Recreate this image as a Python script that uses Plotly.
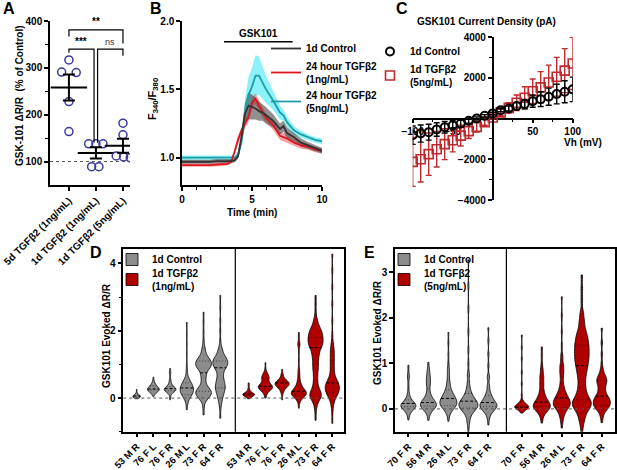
import numpy as np
import plotly.graph_objects as go

W, H = 617, 470
FONT = "Liberation Sans"


def fx(p):
    return p / W


def fy(p):
    return 1 - p / H


# ---------------- Panel A : GSK-101 dR/R (% of control)
a_groups = ["5d TGFβ2 (1ng/mL)", "1d TGFβ2 (1ng/mL)", "1d TGFβ2 (5ng/mL)"]
a_5d_1ng = [317, 291, 290, 228, 164]
a_1d_1ng = [138, 138, 138, 89, 89]
a_1d_5ng = [182, 157, 112, 110, 108]
a_spread = [[0, -0.27, 0.27, 0, 0],
            [-0.27, 0, 0.26, -0.16, 0.11],
            [0, 0, -0.25, 0.02, 0.27]]

# ---------------- Panel B : F340/F380 traces
b_time = [0, 0.5, 1, 1.5, 2, 2.5, 3, 3.25, 3.5, 3.75, 4, 4.25, 4.5, 4.75,
          5, 5.25, 5.5, 5.75, 6, 6.5, 7, 7.25, 7.5, 8, 8.5, 9, 9.5, 10]
b_ctrl = [0.97, 0.97, 0.965, 0.97, 0.97, 0.975, 0.975, 0.97, 0.975, 0.98, 1.01,
          1.15, 1.32, 1.38, 1.37, 1.36, 1.34, 1.33, 1.31, 1.27, 1.21, 1.23, 1.18,
          1.15, 1.11, 1.09, 1.07, 1.05]
b_ctrl_sem = [0.015, 0.015, 0.015, 0.015, 0.015, 0.015, 0.015, 0.015, 0.015, 0.015,
              0.02, 0.05, 0.08, 0.1, 0.09, 0.08, 0.07, 0.06, 0.06, 0.05, 0.04, 0.04,
              0.04, 0.03, 0.03, 0.025, 0.02, 0.02]
b_1ng = [0.945, 0.945, 0.94, 0.945, 0.945, 0.95, 0.95, 0.955, 0.97, 1.04, 1.13,
         1.2, 1.25, 1.3, 1.4, 1.43, 1.38, 1.33, 1.29, 1.24, 1.16, 1.15, 1.14, 1.11,
         1.09, 1.08, 1.06, 1.05]
b_1ng_sem = [0.012, 0.012, 0.012, 0.012, 0.012, 0.012, 0.012, 0.012, 0.015, 0.02,
             0.03, 0.03, 0.035, 0.04, 0.04, 0.04, 0.04, 0.04, 0.035, 0.035, 0.03,
             0.03, 0.03, 0.025, 0.025, 0.02, 0.02, 0.02]
b_5ng = [1.0, 1.0, 0.995, 1.0, 1.0, 1.0, 1.0, 0.995, 1.0, 1.0, 1.02, 1.12, 1.33,
         1.46, 1.52, 1.6, 1.6, 1.55, 1.5, 1.42, 1.33, 1.31, 1.26, 1.2, 1.17, 1.15,
         1.13, 1.12]
b_5ng_sem = [0.015, 0.015, 0.015, 0.015, 0.015, 0.015, 0.015, 0.015, 0.015, 0.015,
             0.02, 0.05, 0.1, 0.13, 0.14, 0.15, 0.14, 0.12, 0.1, 0.07, 0.05, 0.04,
             0.04, 0.03, 0.025, 0.02, 0.02, 0.02]

# ---------------- Panel C : I-V curve
c_vh = [-100, -90, -80, -70, -60, -50, -40, -30, -20, -10, 0,
        10, 20, 30, 40, 50, 60, 70, 80, 90, 100]
c_ctrl = [-820, -740, -670, -540, -430, -330, -250, -115, 0, 130, 250,
          410, 490, 610, 710, 850, 950, 1070, 1200, 1310, 1430]
c_ctrl_err = [450, 420, 390, 330, 280, 230, 180, 120, 80, 60, 60,
              80, 120, 170, 230, 300, 360, 420, 480, 540, 600]
c_tgf = [-2130, -2000, -1750, -1510, -1260, -1070, -840, -620, -410, -180, 50,
         300, 520, 770, 1020, 1340, 1530, 1770, 2050, 2350, 2700]
c_tgf_err = [1200, 1120, 1040, 870, 760, 570, 510, 360, 250, 150, 80,
             150, 250, 380, 540, 600, 770, 850, 950, 1080, 1280]

# ---------------- Panel D : per-cell responses, binned (level, cell count)
d_donors = ["53 M R", "76 F L", "76 F R", "26 M L", "73 F R", "64 F R"]
d_ctrl_levels = [
    [-0.02, 0.0, 0.03, 0.06, 0.09, 0.13, 0.18, 0.26],
    [0.05, 0.12, 0.18, 0.24, 0.3, 0.36, 0.42, 0.5, 0.62],
    [-0.05, 0.05, 0.15, 0.22, 0.28, 0.34, 0.42, 0.52, 0.64, 0.76, 0.88],
    [-0.35, -0.2, -0.1, 0.0, 0.1, 0.2, 0.3, 0.4, 0.5, 0.6, 0.8, 1.0, 1.3, 1.6, 1.9, 2.25],
    [-0.5, -0.3, -0.1, 0.0, 0.1, 0.2, 0.3, 0.45, 0.6, 0.75, 0.9, 1.0, 1.1, 1.2, 1.35, 1.5,
     1.7, 1.95, 2.25, 2.55],
    [-0.6, -0.35, -0.15, 0.0, 0.15, 0.3, 0.45, 0.6, 0.75, 0.9, 1.0, 1.1, 1.2, 1.35, 1.5,
     1.7, 2.0, 2.3, 2.7, 3.05],
]
d_ctrl_counts = [
    [1, 3, 8, 8, 4, 2, 1, 1],
    [1, 2, 6, 10, 8, 5, 3, 2, 1],
    [1, 1, 4, 9, 9, 5, 3, 2, 1, 2, 1],
    [1, 1, 2, 4, 8, 10, 10, 8, 5, 3, 2, 1, 1, 1, 1, 1],
    [1, 1, 2, 4, 8, 8, 5, 3, 3, 4, 7, 8, 7, 5, 3, 2, 1, 1, 1, 1],
    [1, 1, 2, 3, 5, 7, 6, 4, 4, 6, 7, 7, 6, 4, 2, 1, 1, 1, 1, 1],
]
d_tgf_levels = [
    [-0.02, 0.03, 0.08, 0.12, 0.17, 0.23, 0.3, 0.38, 0.45],
    [0.0, 0.1, 0.2, 0.28, 0.35, 0.42, 0.5, 0.58, 0.66, 0.75, 0.88, 1.05],
    [-0.05, 0.1, 0.2, 0.3, 0.38, 0.45, 0.52, 0.6, 0.7, 0.85],
    [-0.3, -0.15, -0.05, 0.05, 0.12, 0.2, 0.28, 0.38, 0.5, 0.65, 0.8, 1.0, 1.2, 1.4, 1.6,
     1.8, 1.95],
    [-0.66, -0.4, -0.2, -0.05, 0.05, 0.15, 0.3, 0.5, 0.7, 0.9, 1.1, 1.3, 1.5, 1.65, 1.8,
     1.95, 2.1, 2.3, 2.55, 2.8, 3.05],
    [-0.75, -0.45, -0.2, 0.0, 0.15, 0.3, 0.45, 0.6, 0.8, 1.0, 1.2, 1.4, 1.6, 1.9, 2.3, 2.8,
     3.3, 3.8, 4.28],
]
d_tgf_counts = [
    [1, 3, 8, 8, 4, 2, 1, 1, 1],
    [1, 2, 5, 9, 9, 6, 4, 5, 5, 3, 1, 1],
    [1, 1, 3, 6, 9, 9, 6, 3, 2, 1],
    [1, 1, 3, 7, 10, 9, 6, 4, 3, 2, 2, 1, 1, 1, 3, 1, 1],
    [1, 1, 2, 3, 5, 5, 4, 3, 3, 4, 4, 5, 7, 8, 8, 7, 5, 3, 1, 1, 1],
    [1, 1, 2, 4, 7, 9, 7, 4, 3, 3, 3, 3, 2, 1, 1, 1, 1, 1, 1],
]
d_ctrl_bw = [0.035, 0.05, 0.05, 0.09, 0.1, 0.1]
d_tgf_bw = [0.04, 0.06, 0.05, 0.08, 0.11, 0.12]
d_ctrl_w = [0.45, 0.7, 0.7, 0.8, 0.95, 0.9]
d_tgf_w = [0.7, 0.85, 0.85, 0.9, 0.9, 0.85]

# ---------------- Panel E : per-cell responses, binned (level, cell count)
e_donors = ["70 F R", "56 M R", "26 M L", "73 F R", "64 F R"]
e_ctrl_levels = [
    [-0.24, -0.12, -0.03, 0.05, 0.12, 0.2, 0.3, 0.42, 0.55, 0.7, 0.82, 0.96],
    [-0.25, -0.12, -0.02, 0.06, 0.14, 0.22, 0.32, 0.44, 0.56, 0.68, 0.8, 0.9, 1.02],
    [-0.27, -0.12, -0.02, 0.07, 0.15, 0.23, 0.32, 0.42, 0.55, 0.7, 0.85, 1.0, 1.2, 1.45, 1.68],
    [-0.5, -0.3, -0.15, -0.03, 0.07, 0.17, 0.28, 0.4, 0.55, 0.75, 1.0, 1.3, 1.7, 2.2, 2.7, 3.27],
    [-0.35, -0.18, -0.05, 0.05, 0.14, 0.24, 0.35, 0.5, 0.7, 0.95, 1.2, 1.5, 1.78],
]
e_ctrl_counts = [
    [1, 2, 5, 10, 8, 4, 2, 1, 1, 2, 1, 1],
    [1, 2, 5, 9, 8, 5, 3, 2, 3, 3, 2, 1, 1],
    [1, 2, 5, 9, 9, 8, 6, 4, 3, 2, 2, 1, 1, 1, 1],
    [1, 2, 3, 7, 11, 9, 5, 3, 2, 2, 1, 1, 1, 1, 1, 1],
    [1, 2, 6, 10, 8, 5, 3, 2, 2, 1, 1, 1, 1],
]
e_tgf_levels = [
    [-0.09, -0.02, 0.04, 0.1, 0.17, 0.3, 0.55, 0.8, 1.1, 1.35, 1.62],
    [-0.31, -0.17, -0.05, 0.05, 0.15, 0.27, 0.4, 0.55, 0.7, 0.85, 1.0, 1.18, 1.36],
    [-0.42, -0.25, -0.1, 0.03, 0.13, 0.24, 0.36, 0.5, 0.65, 0.8, 0.95, 1.15, 1.4, 1.7, 2.05, 2.46],
    [-0.5, -0.3, -0.15, 0.0, 0.1, 0.2, 0.35, 0.5, 0.65, 0.8, 0.95, 1.1, 1.25, 1.4, 1.55, 1.7,
     1.9, 2.1, 2.4, 2.65, 2.94],
    [-0.3, -0.15, -0.02, 0.08, 0.18, 0.28, 0.4, 0.52, 0.62, 0.72, 0.85, 1.0, 1.2, 1.45, 1.77],
]
e_tgf_counts = [
    [1, 4, 10, 5, 2, 1, 1, 1, 1, 1, 1],
    [1, 2, 6, 10, 8, 5, 3, 3, 3, 2, 1, 1, 1],
    [1, 2, 4, 8, 10, 8, 5, 3, 2, 3, 3, 2, 1, 1, 1, 1],
    [1, 2, 3, 5, 6, 6, 4, 3, 3, 4, 5, 6, 6, 6, 5, 4, 3, 2, 1, 1, 1],
    [1, 2, 5, 8, 8, 6, 4, 4, 5, 4, 2, 1, 1, 1, 1],
]
e_ctrl_bw = [0.06, 0.065, 0.07, 0.08, 0.065]
e_tgf_bw = [0.045, 0.07, 0.08, 0.1, 0.065]
e_ctrl_w = [0.75, 0.8, 0.85, 0.95, 0.85]
e_tgf_w = [0.7, 0.85, 0.85, 0.95, 0.85]

GREY = "#8c8c8c"
DRED = "#b00000"
PURPLE = "#3a3a9c"

fig = go.Figure()

# ---- A
for i, vals in enumerate([a_5d_1ng, a_1d_1ng, a_1d_5ng]):
    fig.add_trace(go.Scatter(
        x=[i + d for d in a_spread[i]], y=vals, mode="markers", xaxis="x", yaxis="y",
        marker=dict(symbol="circle-open", size=8, color=PURPLE, line=dict(width=1.5)),
        showlegend=False, hoverinfo="y"))
    m = np.mean(vals)
    sem = np.std(vals, ddof=1) / np.sqrt(len(vals))
    fig.add_trace(go.Scatter(
        x=[i], y=[m], mode="markers", xaxis="x", yaxis="y",
        marker=dict(symbol="line-ew", size=26, color="black", line=dict(width=2, color="black")),
        error_y=dict(type="data", array=[sem], thickness=2, width=6, color="black"),
        showlegend=False, hoverinfo="y"))

# ---- B
b_series = [
    ("1d Control", b_ctrl, b_ctrl_sem, "#333333", "rgba(70,70,70,0.6)"),
    ("24 hour TGFβ2<br>(1ng/mL)", b_1ng, b_1ng_sem, "#e0141e", "rgba(240,90,90,0.55)"),
    ("24 hour TGFβ2<br>(5ng/mL)", b_5ng, b_5ng_sem, "#1f9ea5", "rgba(0,225,240,0.45)"),
]
for name, mean, sem, lc, fc in b_series[::-1]:
    up = [m + s for m, s in zip(mean, sem)]
    lo = [m - s for m, s in zip(mean, sem)]
    fig.add_trace(go.Scatter(x=b_time, y=up, mode="lines", line=dict(width=0),
                             xaxis="x2", yaxis="y2", showlegend=False, hoverinfo="skip"))
    fig.add_trace(go.Scatter(x=b_time, y=lo, mode="lines", line=dict(width=0), fill="tonexty",
                             fillcolor=fc, xaxis="x2", yaxis="y2", showlegend=False,
                             hoverinfo="skip"))
for rank, (name, mean, sem, lc, fc) in reversed(list(enumerate(b_series))):
    fig.add_trace(go.Scatter(x=b_time, y=mean, mode="lines", name=name,
                             line=dict(color=lc, width=1.8), xaxis="x2", yaxis="y2",
                             legend="legend", legendrank=rank + 1))

# ---- C
fig.add_trace(go.Scatter(
    x=c_vh, y=c_tgf, mode="markers", name="1d TGFβ2<br>(5ng/mL)", xaxis="x3", yaxis="y3",
    marker=dict(symbol="square-open", size=9, color="#c0282d", line=dict(width=1.6)),
    error_y=dict(type="data", array=c_tgf_err, thickness=1.4, width=3, color="#c0282d"),
    legend="legend2", legendrank=2))
fig.add_trace(go.Scatter(
    x=c_vh, y=c_ctrl, mode="markers", name="1d Control", xaxis="x3", yaxis="y3",
    marker=dict(symbol="circle-open", size=8, color="black", line=dict(width=2)),
    error_y=dict(type="data", array=c_ctrl_err, thickness=1.4, width=3, color="black"),
    legend="legend2", legendrank=1))

# ---- D / E violins


def half_width(vals, bw, width, y):
    # gaussian KDE, scaled the way plotly scales a violin (max density -> width/2)
    grid = np.linspace(vals.min(), vals.max(), 400)
    dens = lambda t: np.exp(-0.5 * ((t[:, None] - vals[None, :]) / bw) ** 2).sum(axis=1)
    return dens(np.array([y]))[0] / dens(grid).max() * width / 2


def add_violins(levels_c, counts_c, levels_t, counts_t, bws, widths, offsets, xa, ya, legs,
                names):
    med_x, med_y, q_x, q_y = [], [], [], []
    for grp, (levels, counts) in enumerate([(levels_c, counts_c), (levels_t, counts_t)]):
        for i in range(len(levels)):
            vals = np.repeat(levels[i], counts[i])
            x0 = i + offsets[grp]
            bw, w = bws[grp][i], widths[grp][i]
            fig.add_trace(go.Violin(
                x0=x0, y=vals, xaxis=xa, yaxis=ya, width=w, bandwidth=bw,
                spanmode="hard", points=False, scalemode="width",
                fillcolor=[GREY, DRED][grp], opacity=1,
                line=dict(color="black", width=0.8), name=names[grp],
                showlegend=(i == 0), legend=legs[grp], hoverinfo="y"))
            q1, q2, q3 = np.percentile(vals, [25, 50, 75])
            hw = half_width(vals, bw, w, q2)
            med_x += [x0 - hw, x0 + hw, None]
            med_y += [q2, q2, None]
            for q in (q1, q3):
                hw = half_width(vals, bw, w, q)
                q_x += [x0 - hw, x0 + hw, None]
                q_y += [q, q, None]
    fig.add_trace(go.Scatter(x=med_x, y=med_y, mode="lines", xaxis=xa, yaxis=ya,
                             line=dict(color="black", width=1, dash="3px,2px"),
                             showlegend=False, hoverinfo="skip"))
    fig.add_trace(go.Scatter(x=q_x, y=q_y, mode="lines", xaxis=xa, yaxis=ya,
                             line=dict(color="rgba(0,0,0,0.7)", width=0.8, dash="1px,2px"),
                             showlegend=False, hoverinfo="skip"))


add_violins(d_ctrl_levels, d_ctrl_counts, d_tgf_levels, d_tgf_counts,
            [d_ctrl_bw, d_tgf_bw], [d_ctrl_w, d_tgf_w], [0, 6.7], "x4", "y4",
            ["legend3", "legend5"], ["1d Control", "1d TGFβ2<br>(1ng/mL)"])
add_violins(e_ctrl_levels, e_ctrl_counts, e_tgf_levels, e_tgf_counts,
            [e_ctrl_bw, e_tgf_bw], [e_ctrl_w, e_tgf_w], [0, 5.67], "x5", "y5",
            ["legend4", "legend6"], ["1d Control", "1d TGFβ2<br>(5ng/mL)"])

# ---- axes
tickfont = dict(family=FONT, size=10, color="black", weight="bold")
base = dict(showline=True, linecolor="black", linewidth=1.5, ticks="outside", ticklen=4,
            tickwidth=1.5, tickcolor="black", showgrid=False, zeroline=False,
            tickfont=tickfont, automargin=False)

fig.update_layout(
    xaxis=dict(base, domain=[fx(50), fx(130)], range=[-0.7, 2.26], anchor="y",
               tickvals=[0, 1, 2], ticktext=a_groups, tickangle=-45,
               tickfont=dict(tickfont, size=10)),
    yaxis=dict(base, domain=[fy(185), fy(21)], range=[50, 400], anchor="x",
               tickvals=[100, 200, 300, 400],
               minor=dict(tickvals=[150, 250, 350], ticks="outside", ticklen=3,
                          tickwidth=1.2, tickcolor="black")),
    xaxis2=dict(base, domain=[fx(182), fx(322)], range=[0, 10], anchor="y2",
                tickvals=[0, 5, 10],
                minor=dict(dtick=1, ticks="outside", ticklen=3, tickwidth=1.2,
                           tickcolor="black")),
    yaxis2=dict(base, domain=[fy(185), fy(21)], range=[0.8, 2.0], anchor="x2",
                tickvals=[1.0, 1.5, 2.0], ticktext=["1.0", "1.5", "2.0"]),
    xaxis3=dict(base, domain=[fx(412.7), fx(572.7)], range=[-100, 100], anchor="free",
                position=fy(118.5), tickvals=[-100, -50, 50, 100], layer="below traces",
                minor=dict(tickvals=[-75, -25, 25, 75], ticks="outside", ticklen=3,
                           tickwidth=1.2, tickcolor="black")),
    yaxis3=dict(base, domain=[fy(200), fy(37)], range=[-4000, 4000], anchor="free",
                position=fx(492.7), tickvals=[-4000, -2000, 2000, 4000],
                minor=dict(tickvals=[-3000, -1000, 1000, 3000], ticks="outside",
                           ticklen=3, tickwidth=1.2, tickcolor="black")),
    xaxis4=dict(base, domain=[fx(123.3), fx(344)], range=[-0.8, 12.4], anchor="y4",
                mirror=True, tickvals=[i for i in range(6)] + [i + 6.7 for i in range(6)],
                ticktext=d_donors + d_donors, tickangle=-45,
                tickfont=dict(tickfont, size=9.5)),
    yaxis4=dict(base, domain=[fy(431.7), fy(249)], range=[-1.0, 4.43], anchor="x4",
                mirror=True, tickvals=[0, 2, 4],
                minor=dict(tickvals=[-1, 1, 3], ticks="outside", ticklen=3,
                           tickwidth=1.2, tickcolor="black")),
    xaxis5=dict(base, domain=[fx(395), fx(615)], range=[-0.67, 10.33], anchor="y5",
                mirror=True, tickvals=[i for i in range(5)] + [i + 5.67 for i in range(5)],
                ticktext=e_donors + e_donors, tickangle=-45,
                tickfont=dict(tickfont, size=9.5)),
    yaxis5=dict(base, domain=[fy(431.7), fy(249)], range=[-0.5, 3.51], anchor="x5",
                mirror=True, tickvals=[0, 1, 2, 3]),
)

legfont = dict(family=FONT, size=10, color="black", weight="bold")
leg = dict(xanchor="left", yanchor="top", font=legfont, bgcolor="rgba(0,0,0,0)",
           tracegroupgap=0, itemwidth=30, traceorder="normal")
fig.update_layout(
    legend=dict(leg, x=fx(266), y=fy(34)),
    legend2=dict(leg, x=fx(370), y=fy(37)),
    legend3=dict(leg, x=fx(112), y=fy(245)),
    legend5=dict(leg, x=fx(112), y=fy(260)),
    legend4=dict(leg, x=fx(384), y=fy(245)),
    legend6=dict(leg, x=fx(384), y=fy(260)),
)

# ---- shapes: brackets, reference lines, dividers
line_k = dict(color="black", width=1.2)
shapes = [
    dict(type="path", xref="x", yref="y", path="M0,367 L0,381 L2,381 L2,352", line=line_k),
    dict(type="path", xref="x", yref="y", path="M0,332 L0,340 L0.93,340 L0.93,140", line=line_k),
    dict(type="path", xref="x", yref="y", path="M1.06,140 L1.06,340 L2,340 L2,326", line=line_k),
    dict(type="line", xref="x domain", yref="y", x0=0, x1=1, y0=100, y1=100,
         line=dict(color="#555", width=1, dash="dot")),
    dict(type="line", xref="x2", yref="paper", x0=3, x1=7.9, y0=fy(41.7), y1=fy(41.7),
         line=dict(color="black", width=1.6)),
    dict(type="line", xref="x4", yref="y4 domain", x0=5.9, x1=5.9, y0=0, y1=1, line=line_k),
    dict(type="line", xref="x5", yref="y5 domain", x0=4.9, x1=4.9, y0=0, y1=1, line=line_k),
    dict(type="line", xref="x4 domain", yref="y4", x0=0, x1=1, y0=0, y1=0, layer="above",
         line=dict(color="#555", width=1, dash="dot")),
    dict(type="line", xref="x5 domain", yref="y5", x0=0, x1=1, y0=0, y1=0, layer="above",
         line=dict(color="#555", width=1, dash="dot")),
]

bold = dict(family=FONT, color="black", weight="bold")
ann = []
for letter, px_, py_ in [("A", 9, 9), ("B", 156, 9), ("C", 402, 9), ("D", 96, 252), ("E", 369, 252)]:
    ann.append(dict(text=letter, x=fx(px_), y=fy(py_), font=dict(bold, size=16)))
ann += [
    dict(text="GSK-101 ΔR/R  (% of Control)", x=fx(20), y=fy(96), textangle=-90,
         font=dict(bold, size=10)),
    dict(text="F<sub>340</sub>/F<sub>380</sub>", x=fx(153), y=fy(99), textangle=-90,
         font=dict(bold, size=11)),
    dict(text="Time (min)", x=fx(252), y=fy(212), font=dict(bold, size=10)),
    dict(text="GSK101", x=fx(258), y=fy(33), font=dict(bold, size=10)),
    dict(text="GSK101 Current Density (pA)", x=fx(487), y=fy(22), font=dict(bold, size=10)),
    dict(text="Vh (mV)", x=fx(583), y=fy(142), font=dict(bold, size=10)),
    dict(text="GSK101 Evoked ΔR/R", x=fx(106), y=fy(336), textangle=-90,
         font=dict(bold, size=10)),
    dict(text="GSK101 Evoked ΔR/R", x=fx(377), y=fy(333), textangle=-90,
         font=dict(bold, size=10)),
]
for a in ann:
    a.update(xref="paper", yref="paper", xanchor="center", yanchor="middle", showarrow=False)
ann += [
    dict(text="***", x=0.45, y=341, xref="x", yref="y", yanchor="bottom", showarrow=False,
         font=dict(bold, size=10)),
    dict(text="ns", x=1.52, y=341, xref="x", yref="y", yanchor="bottom", showarrow=False,
         font=dict(family=FONT, color="#333", size=9)),
    dict(text="**", x=1.0, y=382, xref="x", yref="y", yanchor="bottom", showarrow=False,
         font=dict(bold, size=10)),
]

fig.update_layout(
    width=W, height=H, margin=dict(l=0, r=0, t=0, b=0),
    paper_bgcolor="white", plot_bgcolor="rgba(0,0,0,0)",
    font=dict(family=FONT, size=10, color="black"),
    violinmode="overlay", shapes=shapes, annotations=ann,
)

fig.write_html("out.html", config={"displayModeBar": False},
               post_script="document.body.style.margin='0px';")
